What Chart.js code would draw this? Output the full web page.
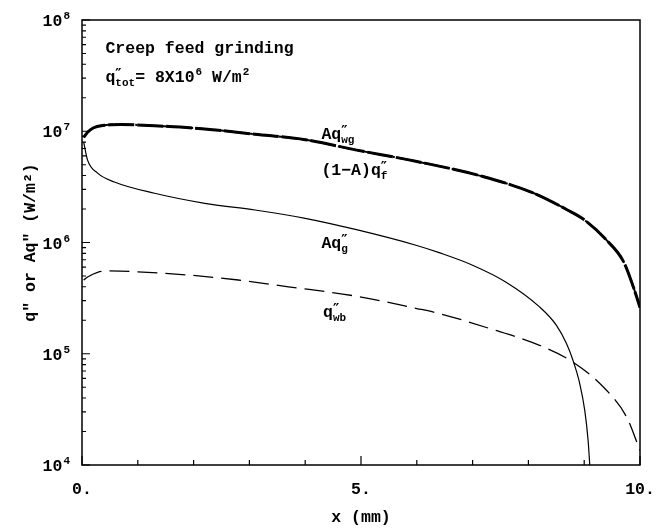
<!DOCTYPE html>
<html>
<head>
<meta charset="utf-8">
<script src="https://cdn.jsdelivr.net/npm/chart.js@4/dist/chart.umd.min.js"></script>
<style>
  body { margin: 0; background: #fff; }
  canvas { display: block; }
</style>
</head>
<body>
<canvas id="heatChart" width="659" height="531"></canvas>
<script>
// x (mm) and heat flux (W/m2)
const wgX = [0.03, 0.1, 0.2, 0.4, 0.7, 1.3, 2.2, 3.1, 4.0, 4.9, 6.0, 7.2, 8.1, 8.7, 9.0, 9.4, 9.7, 9.88, 10.0];
const wgQ = [8.8e6, 9.8e6, 1.07e7, 1.13e7, 1.15e7, 1.12e7, 1.05e7, 9.4e6, 8.4e6, 6.8e6, 5.35e6, 3.9e6, 2.77e6, 1.96e6, 1.6e6, 1.05e6, 6.8e5, 4.0e5, 2.6e5];
// (1-A)q"f lies on top of Aq"wg
const fX = wgX;
const fQ = wgQ;
const gX = [0.03, 0.1, 0.28, 0.58, 1.3, 2.2, 3.1, 4.0, 4.9, 6.0, 6.4, 7.0, 7.6, 8.2, 8.5, 8.68, 8.8, 8.92, 9.01, 9.07, 9.1];
const gQ = [8.0e6, 5.5e6, 4.2e6, 3.5e6, 2.77e6, 2.25e6, 1.96e6, 1.65e6, 1.31e6, 9.4e5, 8.1e5, 6.25e5, 4.4e5, 2.64e5, 1.81e5, 1.24e5, 8.7e4, 5.4e4, 3.1e4, 1.66e4, 1.0e4];
const wbX = [0.03, 0.1, 0.28, 0.5, 1.0, 1.9, 2.8, 3.7, 4.9, 6.0, 6.4, 7.3, 8.2, 8.8, 9.4, 9.76, 10.0];
const wbQ = [4.6e5, 4.9e5, 5.4e5, 5.55e5, 5.45e5, 5.1e5, 4.6e5, 4.0e5, 3.3e5, 2.55e5, 2.3e5, 1.69e5, 1.19e5, 8.4e4, 4.7e4, 2.7e4, 1.35e4];

const xTicks = [0, 1, 2, 3, 4, 5, 6, 7, 8, 9, 10];
const xLabels = { 0: '0.', 5: '5.', 10: '10.' };
const decades = [4, 5, 6, 7, 8];

const FONT = '"Liberation Mono", "DejaVu Sans Mono", monospace';

function pts(xs, ys) {
  return xs.map((x, i) => ({ x: x, y: ys[i] }));
}

// text with raised / lowered bits: ['Aq'], ['″', 'wg'] (prime over subscript), ['2', 'sup']
function richText(ctx, x, y, parts) {
  let cx = x;
  parts.forEach(p => {
    if (p.length === 1) {
      ctx.font = 'bold 16.5px ' + FONT;
      ctx.fillText(p[0], cx, y);
      cx += ctx.measureText(p[0]).width;
    } else if (p[1] === 'sup') {
      ctx.font = 'bold 11px ' + FONT;
      ctx.fillText(p[0], cx + 1, y - 7);
      cx += ctx.measureText(p[0]).width + 1;
    } else {
      ctx.font = 'bold 14px "DejaVu Serif", serif';
      const w1 = ctx.measureText(p[0]).width;
      ctx.fillText(p[0], cx, y - 3);
      ctx.font = 'bold 11px ' + FONT;
      const w2 = ctx.measureText(p[1]).width;
      ctx.fillText(p[1], cx, y + 4);
      cx += Math.max(w1, w2);
    }
  });
}

const decorPlugin = {
  id: 'decor',
  afterDraw(chart) {
    const ctx = chart.ctx;
    const a = chart.chartArea;
    const xs = chart.scales.x;
    const ys = chart.scales.y;
    ctx.save();
    ctx.strokeStyle = '#000';
    ctx.fillStyle = '#000';

    // frame
    ctx.lineWidth = 1.5;
    ctx.strokeRect(a.left, a.top, a.right - a.left, a.bottom - a.top);

    // inward tick marks
    ctx.lineWidth = 1.2;
    ctx.beginPath();
    ys.ticks.forEach(t => {
      const py = ys.getPixelForValue(t.value);
      const major = Math.abs(Math.log10(t.value) - Math.round(Math.log10(t.value))) < 1e-9;
      ctx.moveTo(a.left, py);
      ctx.lineTo(a.left + (major ? 8 : 4), py);
    });
    xs.ticks.forEach(t => {
      const px = xs.getPixelForValue(t.value);
      ctx.moveTo(px, a.bottom);
      ctx.lineTo(px, a.bottom - (t.value % 5 === 0 ? 9 : 5));
    });
    ctx.stroke();

    // y tick labels 10^n
    ctx.textBaseline = 'alphabetic';
    decades.forEach(d => {
      const py = ys.getPixelForValue(Math.pow(10, d));
      ctx.font = 'bold 11px ' + FONT;
      const ew = ctx.measureText(String(d)).width;
      ctx.font = 'bold 16.5px ' + FONT;
      const bw = ctx.measureText('10').width;
      const right = a.left - 12;
      richText(ctx, right - ew - bw - 1, py + 6, [['10'], [String(d), 'sup']]);
    });

    // annotations
    const at = (x, v) => [xs.getPixelForValue(x), ys.getPixelForValue(v)];
    let p = at(0.42, 5.1e7);
    richText(ctx, p[0], p[1], [['Creep feed grinding']]);
    p = at(0.42, 2.8e7);
    richText(ctx, p[0], p[1], [['q'], ['″', 'tot'], ['= 8X10'], ['6', 'sup'], [' W/m'], ['2', 'sup']]);
    p = at(4.29, 8.55e6);
    richText(ctx, p[0], p[1], [['Aq'], ['″', 'wg']]);
    p = at(4.29, 4.06e6);
    richText(ctx, p[0], p[1], [['(1−A)q'], ['″', 'f']]);
    p = at(4.29, 8.9e5);
    richText(ctx, p[0], p[1], [['Aq'], ['″', 'g']]);
    p = at(4.32, 2.15e5);
    richText(ctx, p[0], p[1], [['q'], ['″', 'wb']]);
    ctx.restore();
  }
};

new Chart(document.getElementById('heatChart'), {
  type: 'line',
  data: {
    datasets: [
      {
        label: 'Aq″wg',
        data: pts(wgX, wgQ),
        borderColor: '#000',
        borderWidth: 3,
        borderDash: [26, 3],
        pointRadius: 0,
        cubicInterpolationMode: 'monotone'
      },
      {
        label: '(1−A)q″f',
        data: pts(fX, fQ),
        borderColor: '#000',
        borderWidth: 2,
        borderDash: [14, 2, 2, 2],
        pointRadius: 0,
        cubicInterpolationMode: 'monotone'
      },
      {
        label: 'Aq″g',
        data: pts(gX, gQ),
        borderColor: '#000',
        borderWidth: 1.2,
        pointRadius: 0,
        cubicInterpolationMode: 'monotone'
      },
      {
        label: 'q″wb',
        data: pts(wbX, wbQ),
        borderColor: '#000',
        borderWidth: 1.3,
        borderDash: [20, 8],
        pointRadius: 0,
        cubicInterpolationMode: 'monotone'
      }
    ]
  },
  options: {
    responsive: false,
    animation: false,
    devicePixelRatio: 1,
    layout: { padding: { left: 0, right: 19, top: 20, bottom: 0 } },
    plugins: {
      legend: { display: false },
      tooltip: { enabled: false }
    },
    scales: {
      x: {
        type: 'linear',
        min: 0,
        max: 10,
        afterBuildTicks: s => { s.ticks = xTicks.map(v => ({ value: v })); },
        afterFit: s => {
          s.height = 66;
          s.paddingLeft = 0;
          s.paddingRight = 0;
        },
        grid: { display: false, drawTicks: false },
        border: { display: false },
        ticks: {
          autoSkip: false,
          maxRotation: 0,
          padding: 15,
          color: '#000',
          font: { family: FONT, size: 16.5, weight: 'bold' },
          callback: v => xLabels[v] || ''
        },
        title: {
          display: true,
          text: 'x (mm)',
          color: '#000',
          font: { family: FONT, size: 16.5, weight: 'bold' },
          padding: { top: 0, bottom: 3 }
        }
      },
      y: {
        type: 'logarithmic',
        min: 1e4,
        max: 1e8,
        afterBuildTicks: s => {
          const t = [];
          for (let d = 4; d < 8; d++) {
            for (let m = 1; m <= 9; m++) t.push({ value: m * Math.pow(10, d) });
          }
          t.push({ value: 1e8 });
          s.ticks = t;
        },
        afterFit: s => {
          s.width = 82;
          s.paddingTop = 0;
          s.paddingBottom = 0;
        },
        grid: { display: false, drawTicks: false },
        border: { display: false },
        ticks: { display: false },
        title: {
          display: true,
          text: 'q" or Aq" (W/m²)',
          color: '#000',
          font: { family: FONT, size: 16.5, weight: 'bold' },
          padding: { top: 21, bottom: 0 }
        }
      }
    }
  },
  plugins: [decorPlugin]
});
</script>
</body>
</html>
